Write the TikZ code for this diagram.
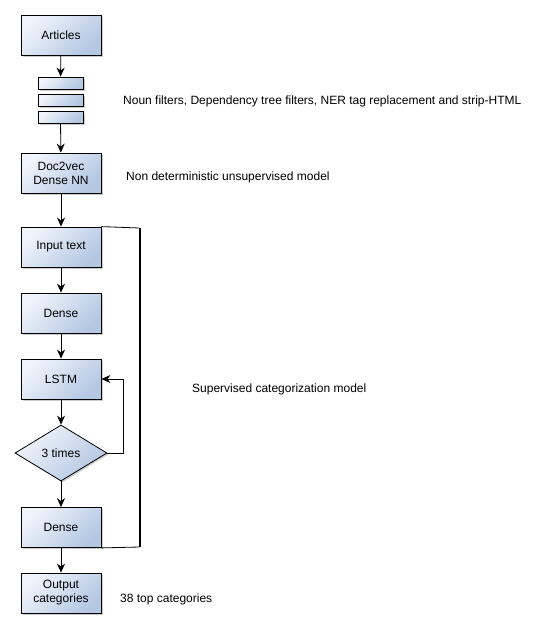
\documentclass[tikz,border=0pt]{standalone}
\usepackage{fontspec}
\setmainfont{Liberation Sans}
\usetikzlibrary{shapes.geometric, shadows, arrows.meta}
\definecolor{boxlight}{HTML}{F0F4FB}
\definecolor{boxdark}{HTML}{B4C7E3}
\tikzset{
        every node/.style={font=\fontsize{12}{14}\selectfont},
        boxshade/.style={draw=black, line width=0.8pt, shading=axis, top color=boxlight, bottom color=boxdark, shading angle=45,
          drop shadow={shadow xshift=1.5pt, shadow yshift=-1.5pt, opacity=0.2, fill=black}},
        proc/.style={boxshade, rectangle, minimum width=80pt, minimum height=40pt, inner sep=2pt, align=center},
        filterbar/.style={boxshade, rectangle, minimum width=45pt, minimum height=12pt, inner sep=0pt},
        cond/.style={boxshade, diamond, aspect=1.64, minimum width=92pt, minimum height=56pt, inner sep=0pt},
        note/.style={anchor=west, inner sep=0pt},
        flow/.style={-{Stealth[length=9pt, width=8pt]}, line width=0.8pt}
          }

\begin{document}
\begin{tikzpicture}[x=1pt, y=-1pt]
            \useasboundingbox (0,0) rectangle (539,629);
            % main flow
            \node[proc] (articles) at (61,35) {Articles};
            \node[filterbar] (bar1) at (60.5,83) {};
            \node[filterbar] (bar2) at (60.5,100) {};
            \node[filterbar] (bar3) at (60.5,117) {};
            \node[proc] (doc2vec) at (61,173) {Doc2vec\\Dense NN};
            \node[proc] (input) at (61,247) {Input text};
            \node[proc] (dense1) at (61,313) {Dense};
            \node[proc] (lstm) at (61,379) {LSTM};
            \node[cond] (times) at (61,453) {3 times};
            \node[proc] (dense2) at (61,527.5) {Dense};
            \node[proc] (output) at (61,593) {Output\\categories};
            % notes
            \node[note] (filternote) at (123,101) {Noun filters, Dependency tree filters, NER tag replacement and strip-HTML};
            \node[note] (docnote) at (126,177) {Non deterministic unsupervised model};
            \node[note] (supnote) at (192,389) {Supervised categorization model};
            \node[note] (outnote) at (120,599) {38 top categories};
            % connectors
            \draw[flow] (articles) -- (bar1);
            \draw[flow] (bar3) -- (doc2vec);
            \draw[flow] (doc2vec) -- (input);
            \draw[flow] (input) -- (dense1);
            \draw[flow] (dense1) -- (lstm);
            \draw[flow] (lstm) -- (times);
            \draw[flow] (times) -- (dense2);
            \draw[flow] (dense2) -- (output);
            \coordinate (loop) at (123,453);
            \draw[flow] (times.east) -- (loop) |- (lstm.east);
            % bracket
            \coordinate (brtop) at (139.5,228);
            \coordinate (brbot) at (139.5,547);
            \draw[line width=0.8pt] (input.north east) -- (brtop);
            \draw[line width=2pt] (brtop) -- (brbot);
            \draw[line width=0.8pt] (brbot) -- (dense2.south east);
          \end{tikzpicture}
\end{document}
